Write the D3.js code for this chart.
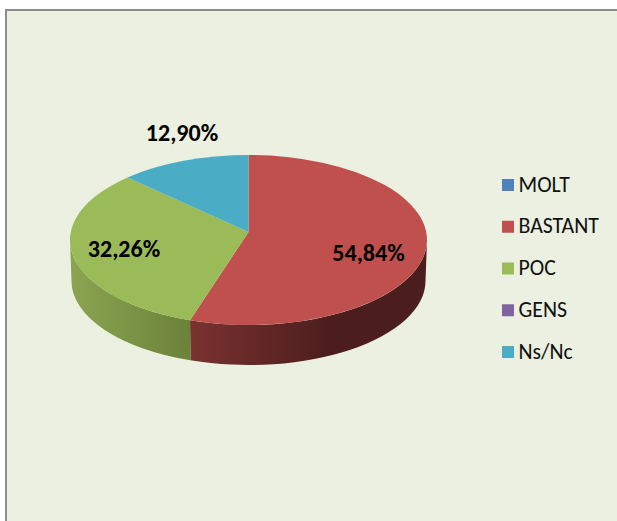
<!DOCTYPE html>
<html>
<head>
<meta charset="utf-8">
<script src="https://cdn.jsdelivr.net/npm/d3@7/dist/d3.min.js"></script>
<style>
  html, body { margin: 0; padding: 0; background: #fff; }
  svg { display: block; }
  text { font-family: Carlito, "Liberation Sans", "Open Sans", sans-serif; }
</style>
</head>
<body>
<svg width="617" height="521"></svg>
<script>
const categories = ['MOLT', 'BASTANT', 'POC', 'GENS', 'Ns/Nc'];
const values = [0, 54.84, 32.26, 0, 12.90];
const valueLabels = ['', '54,84%', '32,26%', '', '12,90%'];
const colors = ['#4f81bd', '#c0504d', '#9bbb59', '#8064a2', '#4bacc6'];
const sideFrom = ['#3d6491', '#7a3230', '#8ba552', '#5f4a7a', '#36809a'];
const sideTo = ['#2c4a6d', '#4b1d1d', '#6b8239', '#463658', '#2a6275'];

const svg = d3.select('svg');
const width = +svg.attr('width');
const height = +svg.attr('height');

// chart area
svg.append('rect')
    .attr('x', 6).attr('y', 10)
    .attr('width', width + 10).attr('height', height + 10)
    .attr('fill', '#ebf0e0')
    .attr('stroke', '#8c8c8c')
    .attr('stroke-width', 2);

// top ellipse and the slightly smaller bottom ellipse
const cx = 248.5, cy = 240, rx = 178.5, ry = 85;
const bottomCy = 281, bottomRx = 177, bottomRy = 84;
const tilt = 0.094; // the pie's centre sits above the ellipse centre (perspective)

const pie = d3.pie().sort(null).value(d => d);
const arcs = pie(values);

// pie angle -> angle on the drawn ellipse
const screenAngle = a => {
    const u = Math.sin(a), v = Math.cos(a);
    const X = u * Math.sqrt(1 - tilt * tilt) / (1 + tilt * v);
    const Y = (v + tilt) / (1 + tilt * v);
    const t = Math.atan2(X, Y);
    return t < 0 || a >= Math.PI * 2 - 1e-9 ? t + Math.PI * 2 : t;
};
const px = a => cx + rx * Math.sin(a);
const py = a => cy - ry * Math.cos(a);
const bx = a => cx + bottomRx * Math.sin(a);
const by = a => bottomCy - bottomRy * Math.cos(a);

const defs = svg.append('defs');
const front = d => ({
    lo: Math.max(screenAngle(d.startAngle), Math.PI / 2),
    hi: Math.min(screenAngle(d.endAngle), Math.PI * 1.5)
});

arcs.forEach((d, i) => {
    const { lo, hi } = front(d);
    if (d.value == 0 || hi <= lo) return;
    const grad = defs.append('linearGradient')
        .attr('id', 'side' + i)
        .attr('gradientUnits', 'userSpaceOnUse')
        .attr('x1', px(hi)).attr('x2', px(lo))
        .attr('y1', 0).attr('y2', 0);
    grad.append('stop').attr('offset', 0).attr('stop-color', sideFrom[i]);
    grad.append('stop').attr('offset', i == 1 ? 0.6 : 1).attr('stop-color', sideTo[i]);
});

// outer wall, only the part facing the viewer
arcs.forEach((d, i) => {
    const { lo, hi } = front(d);
    if (d.value == 0 || hi <= lo) return;
    const large = hi - lo > Math.PI ? 1 : 0;
    svg.append('path')
        .attr('d', `M${px(lo)},${py(lo)}`
            + `A${rx},${ry} 0 ${large} 1 ${px(hi)},${py(hi)}`
            + `L${bx(hi)},${by(hi)}`
            + `A${bottomRx},${bottomRy} 0 ${large} 0 ${bx(lo)},${by(lo)}Z`)
        .attr('fill', `url(#side${i})`);
});

// top face
const centerY = cy - ry * tilt;
svg.append('g')
    .selectAll('path')
    .data(arcs.filter(d => d.value > 0))
    .enter()
        .append('path')
        .attr('d', d => {
            const s = screenAngle(d.startAngle), e = screenAngle(d.endAngle);
            const large = e - s > Math.PI ? 1 : 0;
            return `M${cx},${centerY}L${px(s)},${py(s)}`
                + `A${rx},${ry} 0 ${large} 1 ${px(e)},${py(e)}Z`;
        })
        .attr('fill', d => colors[d.index]);

// data labels
const labelSpots = { 1: [368.5, 253], 2: [124, 249], 4: [182, 133] };
svg.selectAll('.pct')
    .data(arcs.filter(d => d.value > 0))
    .enter()
        .append('text')
        .attr('class', 'pct')
        .attr('x', d => labelSpots[d.index][0])
        .attr('y', d => labelSpots[d.index][1])
        .attr('dy', '0.35em')
        .attr('text-anchor', 'middle')
        .attr('font-size', 24)
        .attr('font-weight', 'bold')
        .attr('fill', '#000')
        .text(d => valueLabels[d.index]);

// legend
const legendY = d3.scalePoint().domain(categories).range([185, 352]);
const legend = svg.append('g');
legend.selectAll('rect')
    .data(categories)
    .enter()
        .append('rect')
        .attr('x', 502)
        .attr('y', d => legendY(d) - 6)
        .attr('width', 12).attr('height', 12)
        .attr('fill', (d, i) => colors[i]);
legend.selectAll('text')
    .data(categories)
    .enter()
        .append('text')
        .attr('x', 518.5)
        .attr('y', d => legendY(d) - 1)
        .attr('dy', '0.35em')
        .attr('font-size', 21.8)
        .attr('fill', '#111')
        .text(d => d);
</script>
</body>
</html>
